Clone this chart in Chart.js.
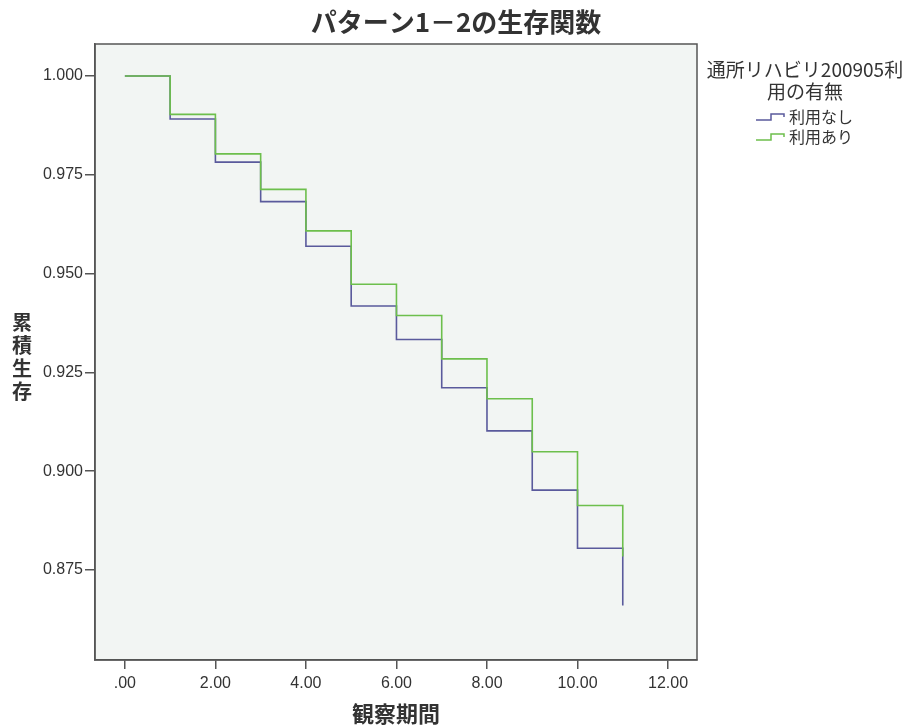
<!DOCTYPE html>
<html>
<head>
<meta charset="utf-8">
<script src="https://cdn.jsdelivr.net/npm/chart.js@4.4.0/dist/chart.umd.min.js"></script>
<style>
	html, body { margin: 0; background: #fff; }
</style>
</head>
<body>
<canvas id="myChart" width="907" height="726"></canvas>
<script>
!(function(){
	'use strict';

	// observation period (time points where the curves step)
	var times = [0, 1, 2, 3, 4, 5, 6, 7, 8, 9, 10, 11];
	// cumulative survival
	var survNone = [1.000, 0.9891, 0.9782, 0.9682, 0.9569, 0.9418, 0.9333, 0.9211, 0.9102, 0.8952, 0.8805, 0.8660];
	var survUsed = [1.000, 0.9903, 0.9803, 0.9713, 0.9608, 0.9473, 0.9394, 0.9284, 0.9183, 0.9049, 0.8913, 0.8784];
	var xTicks = [0, 2, 4, 6, 8, 10, 12];
	var yTicks = [0.875, 0.900, 0.925, 0.950, 0.975, 1.000];

	var title = 'パターン1－2の生存関数';
	var xTitle = '観察期間';
	var yTitle = '累積生存';
	var legendTitle = ['通所リハビリ200905利', '用の有無'];

	var blue = '#5a5a9c';
	var green = '#6dbf4c';
	var axisColor = '#555';
	var textColor = '#333';

	function points(vals){
		return times.map(function(t, i){ return { x: t, y: vals[i] }; });
	}

	var decor = {
		id: 'decor',
		beforeDraw: function(chart){
			var c = chart.ctx, a = chart.chartArea;
			c.save();
			c.fillStyle = '#f2f5f3';
			c.fillRect(a.left, a.top, a.right - a.left, a.bottom - a.top);
			c.restore();
		},
		afterDraw: function(chart){
			var c = chart.ctx, a = chart.chartArea;
			c.save();
			// frame
			c.strokeStyle = axisColor;
			c.lineWidth = 1.5;
			c.strokeRect(a.left, a.top, a.right - a.left, a.bottom - a.top);

			c.fillStyle = textColor;
			c.textAlign = 'center';
			c.textBaseline = 'middle';

			// title
			c.font = 'bold 26px "Noto Sans CJK JP"';
			c.fillText(title, 456, 22);

			// y title, one character per line
			c.font = 'bold 20px "Noto Sans CJK JP"';
			for (var i = 0; i < yTitle.length; i++) {
				c.fillText(yTitle[i], 22, 322 + i * 23);
			}

			// x title
			c.font = 'bold 22px "Noto Sans CJK JP"';
			c.fillText(xTitle, (a.left + a.right) / 2, 714);

			// legend
			c.font = '19px "Noto Sans CJK JP"';
			c.fillText(legendTitle[0], 805, 70);
			c.fillText(legendTitle[1], 805, 92);

			var items = [
				{ label: chart.data.datasets[1].label, color: chart.data.datasets[1].borderColor, y: 117 },
				{ label: chart.data.datasets[0].label, color: chart.data.datasets[0].borderColor, y: 137 }
			];
			c.font = '16px "Noto Sans CJK JP"';
			c.textAlign = 'left';
			items.forEach(function(it){
				c.strokeStyle = it.color;
				c.lineWidth = 1.5;
				c.beginPath();
				c.moveTo(756, it.y + 3);
				c.lineTo(771, it.y + 3);
				c.lineTo(771, it.y - 3);
				c.lineTo(784, it.y - 3);
				c.lineTo(784, it.y);
				c.stroke();
				c.fillStyle = textColor;
				c.fillText(it.label, 789, it.y);
			});
			c.restore();
		}
	};

	var ctx = document.getElementById('myChart').getContext('2d');
	var myChart = new Chart(ctx, {
		type: 'line',
		data: {
			datasets: [{
				label: '利用あり',
				data: points(survUsed),
				stepped: true,
				borderColor: green,
				borderWidth: 1.6,
				pointRadius: 0,
				fill: false,
				order: 0
			}, {
				label: '利用なし',
				data: points(survNone),
				stepped: true,
				borderColor: blue,
				borderWidth: 1.6,
				pointRadius: 0,
				fill: false,
				order: 1
			}]
		},
		options: {
			responsive: false,
			animation: false,
			layout: { padding: { left: 0, right: 210, top: 44, bottom: 0 } },
			plugins: {
				legend: { display: false },
				title: { display: false },
				tooltip: { enabled: false }
			},
			scales: {
				x: {
					type: 'linear',
					min: -0.66,
					max: 12.64,
					afterFit: function(s){ s.height = 66; },
					afterBuildTicks: function(s){ s.ticks = xTicks.map(function(v){ return { value: v }; }); },
					grid: { drawOnChartArea: false, tickLength: 9, color: axisColor, lineWidth: 1.5 },
					border: { color: axisColor, width: 1.5 },
					ticks: {
						autoSkip: false,
						maxRotation: 0,
						padding: 5,
						color: textColor,
						font: { family: '"Liberation Sans", Arial', size: 16 },
						callback: function(v){ return v === 0 ? '.00' : v.toFixed(2); }
					}
				},
				y: {
					type: 'linear',
					min: 0.8522,
					max: 1.0081,
					afterFit: function(s){ s.width = 95; },
					afterBuildTicks: function(s){ s.ticks = yTicks.map(function(v){ return { value: v }; }); },
					grid: { drawOnChartArea: false, tickLength: 10, color: axisColor, lineWidth: 1.5 },
					border: { color: axisColor, width: 1.5 },
					ticks: {
						autoSkip: false,
						padding: 2,
						color: textColor,
						font: { family: '"Liberation Sans", Arial', size: 16 },
						callback: function(v){ return v.toFixed(3); }
					}
				}
			}
		},
		plugins: [decor]
	});
})();
</script>
</body>
</html>
